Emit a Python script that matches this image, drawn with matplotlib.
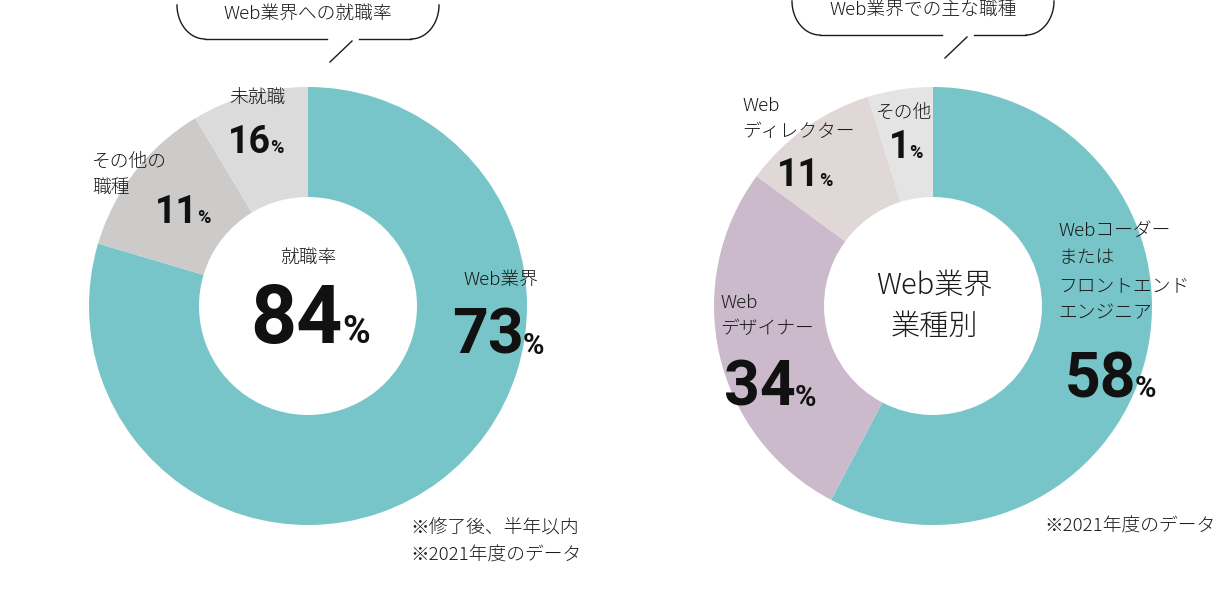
import matplotlib
matplotlib.use("Agg")
import matplotlib.pyplot as plt
import numpy as np

plt.rcParams['font.family'] = ['Noto Sans CJK JP', 'DejaVu Sans']

# data (slice shares, printed labels as shown)
left_names = ["Web業界", "その他の\n職種", "未就職"]
left_shares = [79.6, 11.8, 8.6]
left_labels = ["73", "11", "16"]
left_colors = ["#77c5c9", "#cdcaca", "#dbdbdb"]

right_names = ["Webコーダー\nまたは\nフロントエンド\nエンジニア", "Web\nデザイナー", "Web\nディレクター", "その他"]
right_shares = [57.7, 27.4, 10.1, 4.8]
right_labels = ["58", "34", "11", "1"]
right_colors = ["#77c5c9", "#cbb9cc", "#e0d7d7", "#e4e4e4"]

TXT = "#1a1a1a"
NUM_FONT = ["Roboto", "DejaVu Sans"]

fig = plt.figure(figsize=(12.31, 6.12), dpi=100)
ax = fig.add_axes([0, 0, 1, 1])


def donut(cx, cy, shares, colors):
    R, r = 219, 109
    ax.pie(shares, colors=colors, center=(cx, cy), radius=R,
           startangle=-90, counterclock=True,
           wedgeprops=dict(width=R - r, linewidth=0))


def pct(x, y, num, size, psize):
    # number right-aligned at x, small % right after it, on a shared baseline
    ax.text(x, y, num, fontsize=size, fontweight='bold', family=NUM_FONT,
            color="#111111", ha='right', va='baseline')
    ax.text(x - 1, y, "%", fontsize=psize, fontweight='bold', family=NUM_FONT,
            color="#111111", ha='left', va='baseline')


def label(x, y, s, size=13.5, ha='left', ls=1.55):
    ax.text(x, y, s, fontsize=size, color=TXT, ha=ha, va='center',
            linespacing=ls, fontweight='light')


def bubble(cx, ly, title, ty):
    # rounded speech bracket with a short tail
    w = 131
    t = np.linspace(0, np.pi / 2, 30)
    ax.plot(cx - w + 28 - 28 * np.cos(t), ly - 34 + 34 * np.sin(t), color=TXT, lw=1)
    ax.plot(cx + w - 28 + 28 * np.cos(t), ly - 34 + 34 * np.sin(t), color=TXT, lw=1)
    ax.plot([cx - w + 28, cx + 19], [ly, ly], color=TXT, lw=1)
    ax.plot([cx + 51, cx + w - 28], [ly, ly], color=TXT, lw=1)
    ax.plot([cx + 44, cx + 22], [ly + 2, ly + 23], color=TXT, lw=1)
    ax.text(cx, ty, title, fontsize=13.5, color=TXT, ha='center', va='center',
            fontweight='light')


# left donut
donut(308, 306, left_shares, left_colors)
bubble(308, 39, "Web業界への就職率", 14)
label(308, 258, "就職率", ha='center')
pct(343, 343, "84", 58, 27)
label(463, 280, left_names[0])
pct(524, 354, left_labels[0], 45, 21)
label(92, 175, left_names[1], ls=1.6)
pct(198, 223, left_labels[1], 27, 13)
label(229, 98, left_names[2])
pct(271, 153, left_labels[2], 27, 13)
ax.text(410, 528, "※修了後、半年以内", fontsize=13.5, color=TXT, va='center', fontweight='light')
ax.text(410, 556, "※2021年度のデータ", fontsize=13.5, color=TXT, va='center', fontweight='light')

# right donut
donut(933, 306, right_shares, right_colors)
bubble(923, 35, "Web業界での主な職種", 10)
ax.text(934, 306, "Web業界\n業種別", fontsize=21, color=TXT, ha='center', va='center',
        linespacing=1.45, fontweight='light')
label(1058, 272, right_names[0], ls=1.68)
pct(1136, 397, right_labels[0], 45, 21)
label(720, 316, right_names[1], ls=1.6)
pct(796, 406, right_labels[1], 45, 21)
label(742, 119, right_names[2], ls=1.55)
pct(820, 186, right_labels[2], 27, 13)
label(876, 113, right_names[3])
pct(910, 158, right_labels[3], 27, 13)
ax.text(1044, 527, "※2021年度のデータ", fontsize=13.5, color=TXT, va='center', fontweight='light')

ax.set_xlim(0, 1231)
ax.set_ylim(612, 0)
ax.set_aspect('equal')
ax.axis('off')

fig.savefig("out.png", dpi=100, facecolor='white')
